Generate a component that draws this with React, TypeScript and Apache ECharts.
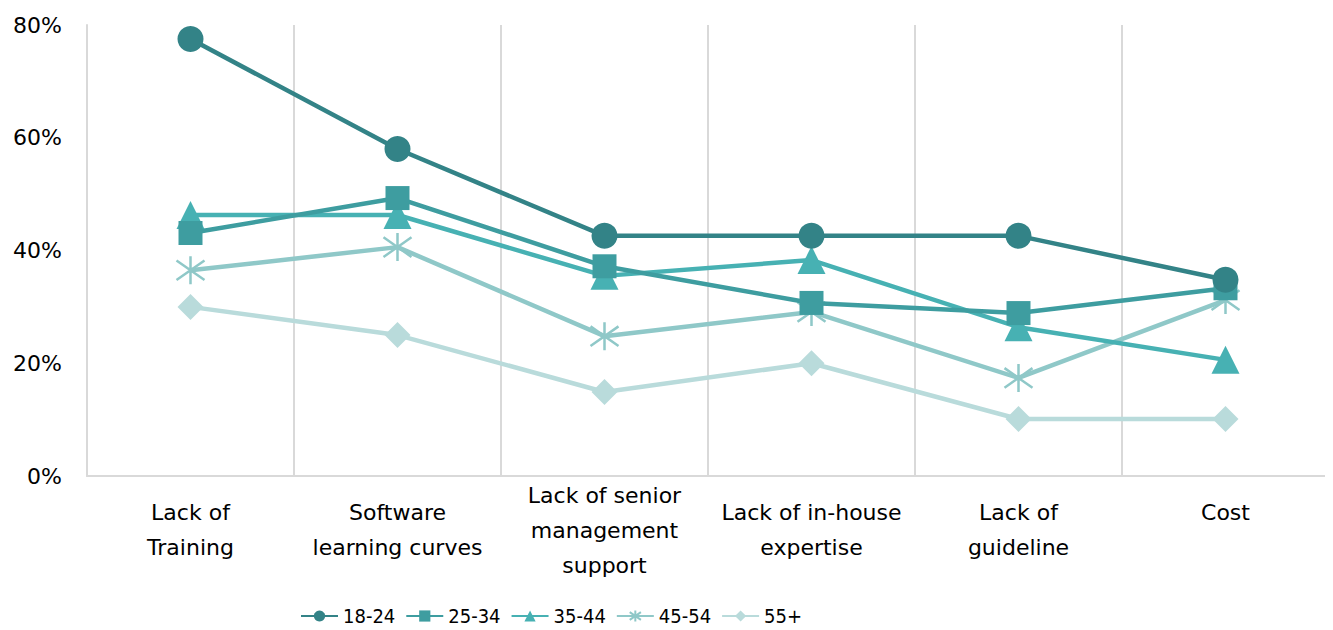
import React, { useEffect, useRef } from "react";
import * as echarts from "echarts";

const categories = [
  "Lack of\nTraining",
  "Software\nlearning curves",
  "Lack of senior\nmanagement\nsupport",
  "Lack of in-house\nexpertise",
  "Lack of\nguideline",
  "Cost\n",
];
const seriesNames = ["18-24", "25-34", "35-44", "45-54", "55+"];
const age18_24 = [77.5, 58.0, 42.6, 42.6, 42.6, 34.8];
const age25_34 = [43.1, 49.3, 37.2, 30.7, 28.9, 33.3];
const age35_44 = [46.3, 46.3, 35.5, 38.3, 26.4, 20.6];
const age45_54 = [36.5, 40.6, 24.8, 29.1, 17.4, 31.2];
const age55plus = [30.0, 25.0, 14.9, 20.0, 10.1, 10.1];
const yTicks = [0, 20, 40, 60, 80];

const colors = ["#338387", "#3e9da0", "#47b1b3", "#8fc8c8", "#b9dbdb"];
const asterisk = "path://M10,0L10,20M1,3L19,17M1,17L19,3";

export default function App() {
  const ref = useRef<HTMLDivElement>(null);
  useEffect(() => {
    if (!ref.current) return;
    const chart = echarts.init(ref.current, undefined, { renderer: "svg" });
    const font = "'DejaVu Sans', Verdana, sans-serif";
    const data = [age18_24, age25_34, age35_44, age45_54, age55plus];
    const symbols = ["circle", "rect", "triangle", asterisk, "diamond"];
    const sizes = [26, 24, 28, 28, 26];
    chart.setOption({
      animation: false,
      color: colors,
      grid: { left: 87, right: 4, top: 25, bottom: 154 },
      legend: {
        left: 300,
        top: 606,
        padding: 0,
        itemWidth: 37,
        itemHeight: 14,
        itemGap: 10,
        textStyle: {
          fontFamily: "'DejaVu Sans Condensed', 'DejaVu Sans', sans-serif",
          fontSize: 20,
          color: "#000",
        },
        data: seriesNames,
      },
      xAxis: {
        type: "category",
        data: categories,
        boundaryGap: true,
        axisLine: { show: true, lineStyle: { color: "#d9d9d9", width: 2 } },
        axisTick: { show: false },
        splitLine: { show: true, lineStyle: { color: "#d9d9d9", width: 2 } },
        axisLabel: {
          interval: 0,
          fontFamily: font,
          fontSize: 22,
          color: "#000",
          lineHeight: 35,
          verticalAlign: "middle",
          margin: 54,
        },
      },
      yAxis: [
        {
          type: "value",
          min: yTicks[0],
          max: yTicks[yTicks.length - 1],
          interval: 20,
          axisLine: { show: true, lineStyle: { color: "#d9d9d9", width: 2 } },
          axisTick: { show: false },
          splitLine: { show: false },
          axisLabel: {
            formatter: "{value}%",
            fontFamily: font,
            fontSize: 22,
            color: "#000",
            margin: 25,
          },
        },
        {
          type: "value",
          position: "right",
          min: yTicks[0],
          max: yTicks[yTicks.length - 1],
          interval: 20,
          axisLine: { show: true, lineStyle: { color: "#d9d9d9", width: 2 } },
          axisTick: { show: false },
          splitLine: { show: false },
          axisLabel: { show: false },
        },
      ],
      series: seriesNames.map((name, i) => ({
        name,
        type: "line",
        data: data[i],
        symbol: symbols[i],
        symbolSize: sizes[i],
        lineStyle: { width: 4.5, color: colors[i] },
        itemStyle:
          i === 3
            ? { color: colors[i], borderColor: colors[i], borderWidth: 2.5 }
            : { color: colors[i] },
        z: 10 - i,
      })),
    });
    return () => chart.dispose();
  }, []);
  return <div ref={ref} style={{ width: 1333, height: 630, marginLeft: -8, marginTop: -8 }} />;
}
